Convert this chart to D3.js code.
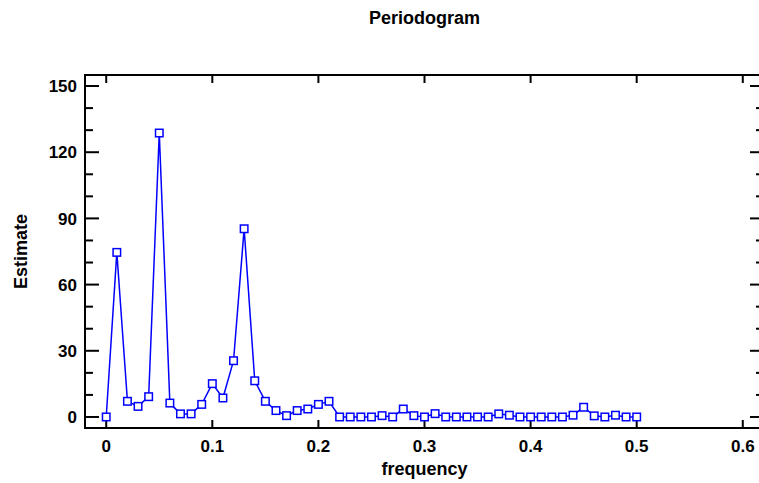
<!DOCTYPE html>
<html>
<head>
<meta charset="utf-8">
<script src="https://cdn.jsdelivr.net/npm/d3@7"></script>
<style>
  body { margin: 0; background: #fff; }
  text { font-family: "Liberation Sans", Arial, sans-serif; font-weight: bold; fill: #000; }
</style>
</head>
<body>
<div id="my_dataviz"></div>
<script>
// data
var frequency = [0, 0.01, 0.02, 0.03, 0.04, 0.05, 0.06, 0.07, 0.08, 0.09,
                 0.10, 0.11, 0.12, 0.13, 0.14, 0.15, 0.16, 0.17, 0.18, 0.19,
                 0.20, 0.21, 0.22, 0.23, 0.24, 0.25, 0.26, 0.27, 0.28, 0.29,
                 0.30, 0.31, 0.32, 0.33, 0.34, 0.35, 0.36, 0.37, 0.38, 0.39,
                 0.40, 0.41, 0.42, 0.43, 0.44, 0.45, 0.46, 0.47, 0.48, 0.49, 0.50];
var estimate = [0, 74.6, 7.1, 4.8, 9.2, 128.7, 6.3, 1.4, 1.4, 5.7,
                15.1, 8.6, 25.5, 85.3, 16.4, 7.1, 2.9, 0.6, 2.9, 3.6,
                5.7, 7.1, 0, 0, 0, 0, 0.6, 0, 3.6, 0.6,
                0, 1.5, 0, 0, 0, 0, 0, 1.4, 0.8, 0,
                0, 0, 0, 0, 0.8, 4.4, 0.5, 0, 0.8, 0, 0];
var xTicks = [0, 0.1, 0.2, 0.3, 0.4, 0.5, 0.6];
var yTicks = [0, 30, 60, 90, 120, 150];
var yMinor = [0, 10, 20, 30, 40, 50, 60, 70, 80, 90, 100, 110, 120, 130, 140, 150];

var W = 759, H = 483;
var margin = {top: 75, right: -5, bottom: 55, left: 85},
    width_graph = W - margin.left - margin.right,
    height_graph = H - margin.top - margin.bottom;

var svg0 = d3.select("#my_dataviz")
  .append("svg")
    .attr("width", W)
    .attr("height", H);

var svg = svg0.append("g")
    .attr("transform", "translate(" + margin.left + "," + margin.top + ")");

var xScale = d3.scaleLinear()
    .domain([-0.02, 0.62])
    .range([0, width_graph]);

var yScale = d3.scaleLinear()
    .domain([-5, 155])
    .range([height_graph, 0]);

// frame
svg.append("rect")
    .attr("width", width_graph)
    .attr("height", height_graph)
    .attr("fill", "none")
    .attr("stroke", "#000")
    .attr("stroke-width", 2);

// ticks pointing inward, all four sides
var ticks = svg.append("g").attr("stroke", "#000").attr("stroke-width", 2);
xTicks.forEach(function(t) {
    ticks.append("line").attr("x1", xScale(t)).attr("x2", xScale(t))
        .attr("y1", height_graph).attr("y2", height_graph - 8);
    ticks.append("line").attr("x1", xScale(t)).attr("x2", xScale(t))
        .attr("y1", 0).attr("y2", 8);
});
yMinor.forEach(function(t) {
    var len = yTicks.indexOf(t) >= 0 ? 14 : 8;
    ticks.append("line").attr("x1", 0).attr("x2", len)
        .attr("y1", yScale(t)).attr("y2", yScale(t));
    ticks.append("line").attr("x1", width_graph).attr("x2", width_graph - len)
        .attr("y1", yScale(t)).attr("y2", yScale(t));
});

// tick labels
svg.selectAll(".xlab").data(xTicks).enter().append("text")
    .attr("class", "xlab")
    .attr("x", function(d) { return xScale(d); })
    .attr("y", height_graph + 24)
    .attr("text-anchor", "middle")
    .style("font-size", "17px")
    .text(function(d) { return d3.format("")(d); });

svg.selectAll(".ylab").data(yTicks).enter().append("text")
    .attr("class", "ylab")
    .attr("x", -8)
    .attr("y", function(d) { return yScale(d); })
    .attr("dy", "0.36em")
    .attr("text-anchor", "end")
    .style("font-size", "17px")
    .text(function(d) { return d; });

// titles
svg0.append("text")
    .attr("x", margin.left + width_graph / 2)
    .attr("y", 24)
    .attr("text-anchor", "middle")
    .style("font-size", "18px")
    .text("Periodogram");

svg0.append("text")
    .attr("x", margin.left + width_graph / 2)
    .attr("y", 475)
    .attr("text-anchor", "middle")
    .style("font-size", "18px")
    .text("frequency");

svg0.append("text")
    .attr("transform", "translate(27," + (margin.top + yScale(75)) + ") rotate(-90)")
    .attr("text-anchor", "middle")
    .style("font-size", "18px")
    .text("Estimate");

// the line
var data = frequency.map(function(f, i) { return {x: f, y: estimate[i]}; });

var valueline = d3.line()
    .x(function(d) { return xScale(d.x); })
    .y(function(d) { return yScale(d.y); });

svg.append("path")
    .attr("fill", "none")
    .attr("stroke", "#0000ff")
    .attr("stroke-width", 1.5)
    .attr("d", valueline(data));

// square markers
var s = 7.5;
svg.selectAll(".pt").data(data).enter().append("rect")
    .attr("class", "pt")
    .attr("x", function(d) { return xScale(d.x) - s / 2; })
    .attr("y", function(d) { return yScale(d.y) - s / 2; })
    .attr("width", s)
    .attr("height", s)
    .attr("fill", "#fff")
    .attr("stroke", "#0000ff")
    .attr("stroke-width", 1.5);
</script>
</body>
</html>
